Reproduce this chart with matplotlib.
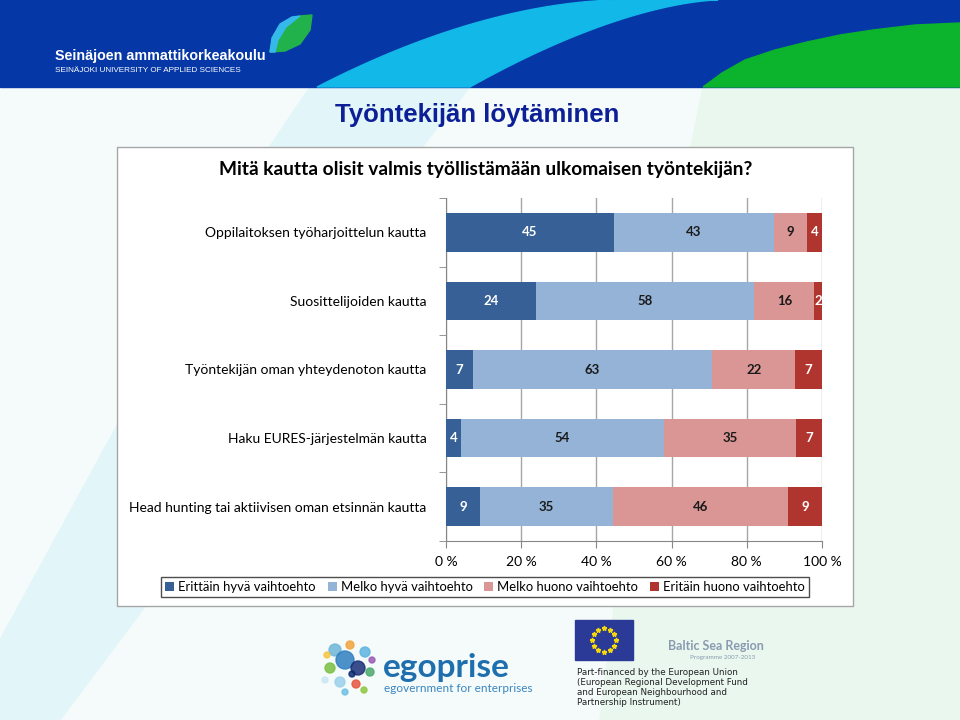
import numpy as np
import matplotlib
matplotlib.use("Agg")
import matplotlib.pyplot as plt
from matplotlib.patches import Rectangle, Polygon, Circle

plt.rcParams['font.family'] = ['Lato', 'DejaVu Sans']

# data (percent, as printed in the bars)
categories = [
    "Oppilaitoksen työharjoittelun kautta",
    "Suosittelijoiden kautta",
    "Työntekijän oman yhteydenoton kautta",
    "Haku EURES-järjestelmän kautta",
    "Head hunting tai aktiivisen oman etsinnän kautta",
]
erittain_hyva = [45, 24, 7, 4, 9]
melko_hyva = [43, 58, 63, 54, 35]
melko_huono = [9, 16, 22, 35, 46]
erittain_huono = [4, 2, 7, 7, 9]
series_names = ["Erittäin hyvä vaihtoehto", "Melko hyvä vaihtoehto",
                "Melko huono vaihtoehto", "Eritäin huono vaihtoehto"]
colors = ["#376196", "#95B3D7", "#D99694", "#B0352F"]
text_colors = ["white", "#1a1a1a", "#1a1a1a", "white"]
xticks = [0, 20, 40, 60, 80, 100]

fig = plt.figure(figsize=(9.6, 7.2), dpi=100)

# slide background
bg = fig.add_axes([0, 0, 1, 1], zorder=0)
bg.set_xlim(0, 960)
bg.set_ylim(720, 0)
bg.axis("off")
bg.add_patch(Rectangle((0, 0), 960, 720, color="#f5fbfb"))
bg.add_patch(Polygon([(310, 87), (470, 87), (300, 300), (180, 560), (60, 720), (0, 720), (0, 640),
                      (120, 420), (220, 220)], color="#e2f6f9"))
bg.add_patch(Polygon([(703, 87), (960, 87), (960, 720), (600, 720), (640, 400)], color="#e9f7ef"))

# header band
bg.add_patch(Rectangle((0, 0), 960, 87, color="#0637a6"))
t = np.linspace(0, 1, 30)
left_edge = [(317 + 303 * s, 87 - 87 * (1 - (1 - s) ** 1.8)) for s in t]
right_edge = [(470 + 248 * s, 87 - 87 * (1 - (1 - s) ** 1.6)) for s in t[::-1]]
bg.add_patch(Polygon(left_edge + right_edge, color="#12b8e8"))
g_edge = [(703, 87), (722, 73), (745, 60), (775, 50), (807, 42), (840, 35), (873, 30), (915, 25), (960, 23)]
bg.add_patch(Polygon(g_edge + [(960, 87)], color="#0cb32c"))
bg.add_patch(Polygon([(270, 52), (274, 35), (285, 22), (300, 16), (312, 15), (310, 30), (300, 44), (285, 51)],
                     color="#22b24c"))
bg.add_patch(Polygon([(270, 52), (272, 38), (280, 24), (292, 17), (300, 16), (286, 27), (278, 40), (275, 52)],
                     color="#35b9ea"))
bg.text(55, 56, "Seinäjoen ammattikorkeakoulu", color="white", fontsize=10.3,
        fontweight="bold", family=["Liberation Sans", "DejaVu Sans"], va="center")
bg.text(55, 70, "SEINÄJOKI UNIVERSITY OF APPLIED SCIENCES", color="white", fontsize=5.9,
        family=["Liberation Sans", "DejaVu Sans"], va="center")

# slide title
bg.text(477, 115, "Työntekijän löytäminen", color="#0d1f96", fontsize=18.5, fontweight="bold",
        family=["Liberation Sans", "DejaVu Sans"], ha="center", va="center")

# chart frame
bg.add_patch(Rectangle((117, 147), 736, 459, facecolor="white", edgecolor="#a6a6a6", lw=1))
bg.text(486, 170, "Mitä kautta olisit valmis työllistämään ulkomaisen työntekijän?",
        fontsize=13.8, fontweight="bold", color="black", ha="center", va="center")

# bottom logos
dots = [(335, 650, 6, "#6fb6d9"), (345, 660, 9, "#2f7fc1"), (358, 668, 7, "#1c2f78"),
        (330, 668, 5, "#7bc043"), (350, 645, 4, "#f2a33a"), (365, 652, 5, "#5db3e0"),
        (340, 682, 5, "#9bd0ea"), (356, 684, 4, "#e8553d"), (370, 672, 4, "#4aa96c"),
        (327, 655, 3, "#f4c542"), (372, 660, 3, "#9a5bb5"), (345, 692, 3, "#6ec1e4"),
        (364, 690, 3, "#8cc63f"), (325, 680, 3, "#c9e7f5"), (352, 674, 3, "#0b2a6f")]
for x, y, r, c in dots:
    bg.add_patch(Circle((x, y), r, color=c, alpha=0.85))
bg.text(383, 668, "egoprise", color="#1f6fae", fontsize=24, fontweight="bold", va="center")
bg.text(384, 688, "egovernment for enterprises", color="#3a86c0", fontsize=8.5, va="center")
bg.add_patch(Rectangle((575, 620), 58, 40, color="#2b3a96"))
for k in range(12):
    a = 2 * np.pi * k / 12
    bg.plot(604 + 12 * np.cos(a), 640 + 12 * np.sin(a), marker="*", color="#f5d90a", ms=3.5)
bg.text(668, 646, "Baltic Sea Region", color="#8a9bb0", fontsize=9, fontweight="bold", va="center")
bg.text(690, 657, "Programme 2007-2013", color="#8a9bb0", fontsize=4.5, va="center")
bg.text(577, 668, "Part-financed by the European Union\n(European Regional Development Fund\n"
        "and European Neighbourhood and\nPartnership Instrument)",
        fontsize=6.3, color="#222222", va="top", linespacing=1.15, family=["DejaVu Sans"])

# chart
ax = fig.add_axes([446 / 960, 1 - 541 / 720, 376 / 960, 343 / 720], zorder=2)
ax.patch.set_alpha(0)
data = np.array([erittain_hyva, melko_hyva, melko_huono, erittain_huono], dtype=float)
pct = data / data.sum(axis=0) * 100
y = np.arange(len(categories))
left = np.zeros(len(categories))
for i in range(4):
    bars = ax.barh(y, pct[i], left=left, height=0.56, color=colors[i], label=series_names[i], zorder=3)
    for j, b in enumerate(bars):
        ax.text(left[j] + pct[i][j] / 2, y[j], str(int(data[i][j])), ha="center", va="center",
                color=text_colors[i], fontsize=9.5, fontweight="bold", zorder=4)
    left += pct[i]

ax.set_xlim(0, 100)
ax.set_ylim(len(categories) - 0.5, -0.5)
ax.set_xticks(xticks)
ax.set_xticklabels([f"{t} %" for t in xticks], fontsize=10)
ax.set_yticks(y)
ax.set_yticklabels(categories, fontsize=10)
ax.tick_params(axis="y", length=0, pad=14)
ax.set_yticks(np.arange(-0.5, len(categories)), minor=True)
ax.tick_params(axis="y", which="minor", length=5, color="#868686")
ax.tick_params(axis="x", length=5, color="#868686", pad=6)
ax.xaxis.grid(True, color="#a6a6a6", lw=1, zorder=0)
ax.set_axisbelow(True)
for s in ["top", "right"]:
    ax.spines[s].set_visible(False)
for s in ["left", "bottom"]:
    ax.spines[s].set_color("#868686")

leg = ax.legend(loc="center", bbox_to_anchor=(485 / 960, 1 - 587 / 720), bbox_transform=fig.transFigure,
                ncol=4, fontsize=9.4, frameon=True, fancybox=False, handlelength=0.7, handleheight=0.7,
                handletextpad=0.3, columnspacing=0.9, borderpad=0.3)
leg.get_frame().set_edgecolor("#222222")
leg.get_frame().set_linewidth(1)

fig.savefig("out.png", dpi=100)
